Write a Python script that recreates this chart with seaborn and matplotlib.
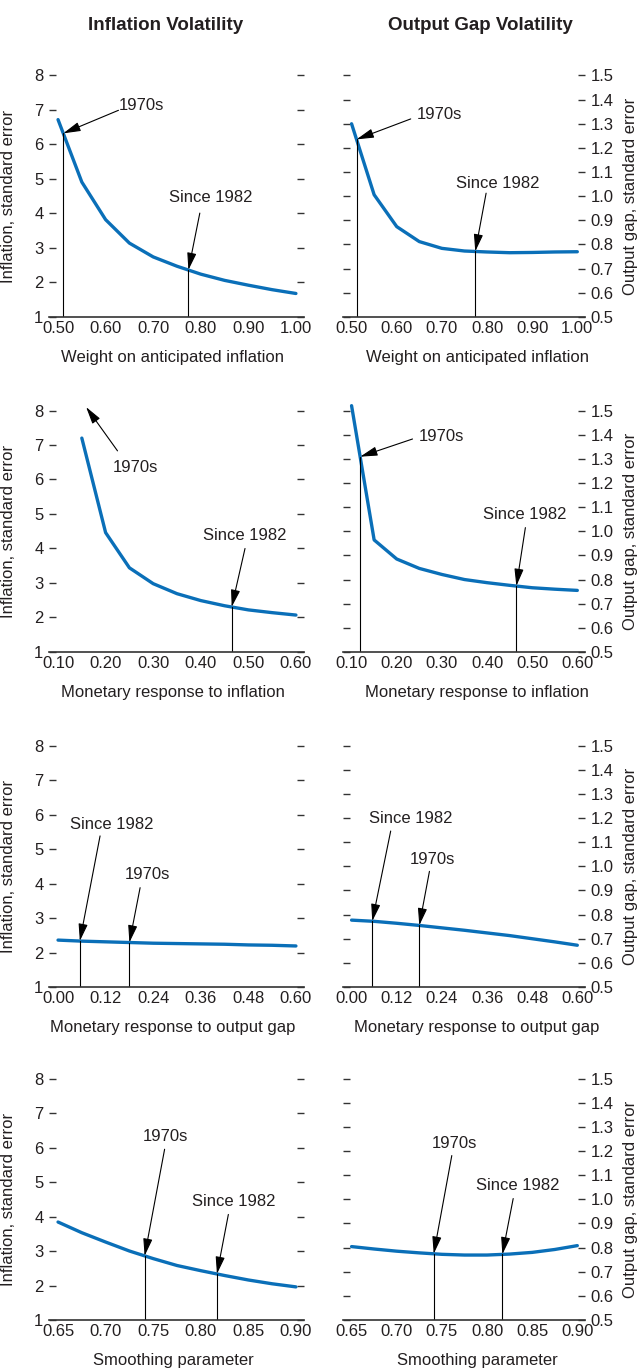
import numpy as np
import matplotlib.pyplot as plt
import seaborn as sns

# row 1: weight on anticipated inflation
weight = [0.50, 0.55, 0.60, 0.65, 0.70, 0.75, 0.80, 0.85, 0.90, 0.95, 1.00]
weight_infl = [6.72, 4.91, 3.82, 3.14, 2.74, 2.47, 2.24, 2.06, 1.92, 1.79, 1.68]
weight_gap = [1.30, 1.006, 0.874, 0.812, 0.784, 0.773, 0.769, 0.766, 0.767, 0.769, 0.770]

# row 2: monetary response to inflation
resp_infl_l = [0.15, 0.20, 0.25, 0.30, 0.35, 0.40, 0.45, 0.50, 0.55, 0.60]
resp_infl_infl = [7.20, 4.46, 3.44, 2.98, 2.69, 2.49, 2.34, 2.22, 2.14, 2.07]
resp_infl_r = [0.10, 0.15, 0.20, 0.25, 0.30, 0.35, 0.40, 0.45, 0.50, 0.55, 0.60]
resp_infl_gap = [1.52, 0.964, 0.885, 0.846, 0.821, 0.800, 0.787, 0.776, 0.766, 0.760, 0.755]

# row 3: monetary response to output gap
resp_gap = [0.00, 0.06, 0.12, 0.18, 0.24, 0.30, 0.36, 0.42, 0.48, 0.54, 0.60]
resp_gap_infl = [2.36, 2.33, 2.31, 2.29, 2.27, 2.26, 2.25, 2.24, 2.22, 2.21, 2.19]
resp_gap_gap = [0.777, 0.772, 0.764, 0.755, 0.745, 0.735, 0.724, 0.713, 0.700, 0.687, 0.673]

# row 4: smoothing parameter
smooth = [0.65, 0.675, 0.70, 0.725, 0.75, 0.775, 0.80, 0.825, 0.85, 0.875, 0.90]
smooth_infl = [3.84, 3.53, 3.26, 3.00, 2.78, 2.58, 2.43, 2.29, 2.16, 2.05, 1.96]
smooth_gap = [0.804, 0.794, 0.785, 0.778, 0.772, 0.769, 0.769, 0.773, 0.780, 0.792, 0.808]

# parameter values for the two periods
era_1970s = [0.511, 0.119, 0.180, 0.741]
era_1982 = [0.774, 0.465, 0.055, 0.817]

xlabels = ["Weight on anticipated inflation", "Monetary response to inflation",
           "Monetary response to output gap", "Smoothing parameter"]
xticks = [np.arange(0.50, 1.001, 0.10), np.arange(0.10, 0.601, 0.10),
          np.arange(0.00, 0.601, 0.12), np.arange(0.65, 0.901, 0.05)]

# annotation layout: (text x, text y, arrow tail x, arrow tail y)
notes_left = [
    {"1970s": (0.676, 7.13, 0.627, 6.99), "Since 1982": (0.82, 4.46, 0.798, 4.01)},
    {"1970s": (0.262, 6.36, 0.225, 6.83), "Since 1982": (0.493, 4.37, 0.493, 4.00)},
    {"1970s": (0.226, 4.25, 0.207, 3.88), "Since 1982": (0.135, 5.70, 0.106, 5.38)},
    {"1970s": (0.763, 6.31, 0.762, 5.95), "Since 1982": (0.835, 4.44, 0.829, 4.06)},
]
notes_right = [
    {"1970s": (0.694, 1.338, 0.631, 1.32), "Since 1982": (0.824, 1.054, 0.798, 1.0125)},
    {"1970s": (0.298, 1.393, 0.235, 1.382), "Since 1982": (0.484, 1.071, 0.485, 1.015)},
    {"1970s": (0.215, 1.028, 0.207, 0.979), "Since 1982": (0.157, 1.197, 0.104, 1.146)},
    {"1970s": (0.764, 1.229, 0.761, 1.181), "Since 1982": (0.834, 1.056, 0.829, 1.003)},
]
# the 1970s inflation response is off the chart in row 2 (left)
offchart_head = {1: (0.159, 8.1)}

rows = [
    (weight, weight_infl, weight, weight_gap),
    (resp_infl_l, resp_infl_infl, resp_infl_r, resp_infl_gap),
    (resp_gap, resp_gap_infl, resp_gap, resp_gap_gap),
    (smooth, smooth_infl, smooth, smooth_gap),
]

sns.set_style("white")
plt.rcParams['font.family'] = ['Liberation Sans', 'DejaVu Sans']
txt = '#231f20'
blue = '#0a6fb8'
fs = 12

fig = plt.figure(figsize=(6.38, 13.72), dpi=100)
bottoms = [0.7690, 0.5248, 0.2806, 0.0379]
H = 0.1760

arrow = dict(arrowstyle='-|>,head_length=0.75,head_width=0.2', color='black',
             lw=0.8, shrinkA=0, shrinkB=0, mutation_scale=14)


def style_axes(ax, ticks, side):
    for s in ['top', 'left', 'right']:
        ax.spines[s].set_visible(False)
    ax.spines['bottom'].set_color('#333333')
    ax.spines['bottom'].set_linewidth(1.2)
    r = ticks[-1] - ticks[0]
    ax.set_xlim(ticks[0] - 0.038 * r, ticks[-1] + 0.034 * r)
    ax.set_xticks(ticks)
    ax.set_xticklabels([f"{t:.2f}" for t in ticks])
    ax.tick_params(axis='x', direction='in', length=4, width=1.0, color='#333333',
                   labelsize=fs, labelcolor=txt, pad=3)
    ax.tick_params(axis='y', direction='in', length=5, width=1.0, color='#333333',
                   left=True, right=True, labelsize=fs, labelcolor=txt, pad=4,
                   labelleft=(side == 'left'), labelright=(side == 'right'))


for i, (xl, yl, xr, yr) in enumerate(rows):
    axl = fig.add_axes([0.0768, bottoms[i], 0.3997, H])
    axr = fig.add_axes([0.5376, bottoms[i], 0.3793, H])

    for ax, x, y, side, notes, ylim in [
        (axl, xl, yl, 'left', notes_left[i], (1, 8)),
        (axr, xr, yr, 'right', notes_right[i], (0.5, 1.5)),
    ]:
        sns.lineplot(x=x, y=y, ax=ax, color=blue, lw=2.4, clip_on=False)
        ax.set_ylim(*ylim)
        style_axes(ax, xticks[i], side)
        if side == 'left':
            ax.set_yticks(range(1, 9))
            ax.set_ylabel("Inflation, standard error", fontsize=fs, color=txt)
            ax.yaxis.set_label_coords(-0.13, 0.5)
            ax.set_xlabel(xlabels[i], fontsize=fs, color=txt)
            ax.xaxis.set_label_coords(0.486, -0.135)
        else:
            yt = np.round(np.arange(0.5, 1.501, 0.1), 1)
            ax.set_yticks(yt)
            ax.set_yticklabels([f"{t:.1f}" for t in yt])
            ax.yaxis.set_label_position('right')
            ax.set_ylabel("Output gap, standard error", fontsize=fs, color=txt)
            ax.yaxis.set_label_coords(1.158, 0.5)
            ax.set_xlabel(xlabels[i], fontsize=fs, color=txt)
            ax.xaxis.set_label_coords(0.554, -0.135)

        for label, xm in [("1970s", era_1970s[i]), ("Since 1982", era_1982[i])]:
            tx, ty, ax0, ay0 = notes[label]
            if side == 'left' and label == "1970s" and i in offchart_head:
                head = offchart_head[i]
            else:
                ym = float(np.interp(xm, x, y))
                ax.plot([xm, xm], [ylim[0], ym], color='black', lw=0.8)
                head = (xm, ym)
            ax.annotate("", xy=head, xytext=(ax0, ay0), arrowprops=arrow,
                        annotation_clip=False)
            ax.text(tx, ty, label, ha='center', va='center', fontsize=fs, color=txt)

fig.text(166 / 638, 1 - 25 / 1372, "Inflation Volatility", ha='center', va='center',
         fontsize=13.5, fontweight='bold', color=txt)
fig.text(480 / 638, 1 - 25 / 1372, "Output Gap Volatility", ha='center', va='center',
         fontsize=13.5, fontweight='bold', color=txt)

fig.savefig("out.png", dpi=100)
